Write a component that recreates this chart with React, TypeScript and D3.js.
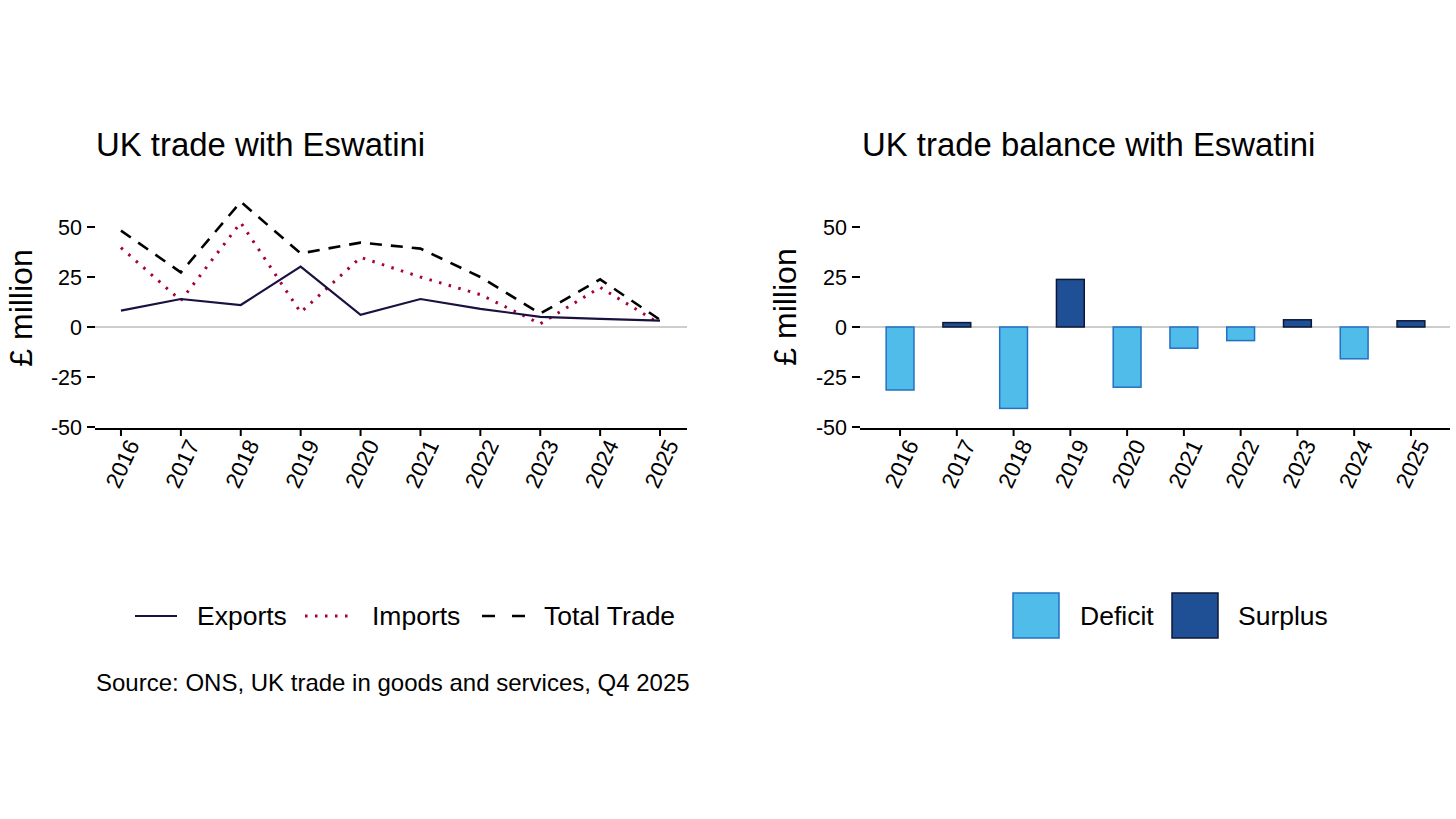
import React from "react";
import * as d3 from "d3";

const years = [2016, 2017, 2018, 2019, 2020, 2021, 2022, 2023, 2024, 2025];
const exportsVals = [8.2, 14, 11, 30.2, 6.1, 14, 9.1, 5.1, 4.1, 3.2];
const importsVals = [39.7, 13.2, 52.2, 7.3, 34.8, 25, 16.2, 1.6, 19.8, 1.6];
const totalVals = [48.2, 27.3, 62.6, 36.8, 42.2, 39.2, 25, 6.7, 23.8, 3.6];
const balanceVals = [-31.5, 2.2, -40.7, 23.8, -30.1, -10.6, -6.8, 3.6, -15.9, 3.1];
const yTicks = [-50, -25, 0, 25, 50];

const FONT = "'Liberation Sans', Arial, sans-serif";

const W = 1456;
const H = 819;

export default function App() {
  const y = d3.scaleLinear().domain([-50, 50]).range([427, 227]);
  const xL = d3.scaleLinear().domain([2015.55, 2025.45]).range([94, 687]);
  const xR = d3
    .scalePoint<number>()
    .domain(years)
    .range([866, 1445])
    .padding(0.6);
  const barW = xR.step() * 0.49;

  const line = (vals: number[]) =>
    d3
      .line<number>()
      .x((_, i) => xL(years[i]))
      .y((d) => y(d))(vals) || "";

  const axisY = (left: number, right: number) => (
    <g>
      {yTicks.map((t) => (
        <g key={t}>
          <line x1={left - 8} x2={left} y1={y(t)} y2={y(t)} stroke="#000" strokeWidth={2} />
          <text
            x={left - 13}
            y={y(t)}
            dy="0.36em"
            textAnchor="end"
            fontSize={21.5}
            fill="#000"
          >
            {t}
          </text>
        </g>
      ))}
      <line x1={left} x2={right} y1={y(0)} y2={y(0)} stroke="#bdbdbd" strokeWidth={1.3} />
      <line x1={left} x2={right} y1={429} y2={429} stroke="#000" strokeWidth={2} />
    </g>
  );

  const axisX = (pos: (v: number) => number) => (
    <g>
      {years.map((yr) => (
        <g key={yr}>
          <line x1={pos(yr)} x2={pos(yr)} y1={429} y2={436} stroke="#000" strokeWidth={2} />
          <text
            transform={`translate(${pos(yr) + 12},${441}) rotate(-65)`}
            textAnchor="end"
            dy="0.35em"
            fontSize={22.5}
            fill="#000"
          >
            {yr}
          </text>
        </g>
      ))}
    </g>
  );

  return (
    <svg width={W} height={H} style={{ display: "block", position: "absolute", left: 0, top: 0 }} fontFamily={FONT}>
      <rect width={W} height={H} fill="#fff" />

      {/* Left panel */}
      <text x={96} y={156} fontSize={32.9} fill="#000">UK trade with Eswatini</text>
      <text transform="translate(32,308) rotate(-90)" textAnchor="middle" fontSize={32} fill="#000">£ million</text>
      {axisY(95, 687)}
      {axisX((v) => xL(v))}
      <path d={line(totalVals)} fill="none" stroke="#000" strokeWidth={2.6} strokeDasharray="12 9" />
      <path d={line(importsVals)} fill="none" stroke="#a8003a" strokeWidth={3} strokeDasharray="2.5 7.5" />
      <path d={line(exportsVals)} fill="none" stroke="#1c1040" strokeWidth={2.2} />

      {/* Left legend */}
      <line x1={135} x2={177} y1={616} y2={616} stroke="#1c1040" strokeWidth={2.2} />
      <text x={197} y={625} fontSize={26.5} fill="#000">Exports</text>
      <line x1={305} x2={350} y1={616} y2={616} stroke="#a8003a" strokeWidth={3} strokeDasharray="2.5 7.5" />
      <text x={372} y={625} fontSize={26.5} fill="#000">Imports</text>
      <line x1={482} x2={525} y1={616} y2={616} stroke="#000" strokeWidth={2.6} strokeDasharray="13 17" />
      <text x={544} y={625} fontSize={26.5} fill="#000">Total Trade</text>

      <text x={96} y={691} fontSize={24} fill="#000">Source: ONS, UK trade in goods and services, Q4 2025</text>

      {/* Right panel */}
      <text x={862} y={156} fontSize={32.9} fill="#000">UK trade balance with Eswatini</text>
      <text transform="translate(796,307) rotate(-90)" textAnchor="middle" fontSize={32} fill="#000">£ million</text>
      {axisY(860, 1450)}
      {balanceVals.map((v, i) => {
        const cx = xR(years[i]) as number;
        const surplus = v >= 0;
        return (
          <rect
            key={years[i]}
            x={cx - barW / 2}
            y={Math.min(y(v), y(0))}
            width={barW}
            height={Math.abs(y(v) - y(0))}
            fill={surplus ? "#1f4f95" : "#4fbce9"}
            stroke={surplus ? "#0d1838" : "#2470c2"}
            strokeWidth={1.5}
          />
        );
      })}
      {axisX((v) => xR(v) as number)}

      {/* Right legend */}
      <rect x={1013} y={593} width={46} height={45} fill="#4fbce9" stroke="#2470c2" strokeWidth={1.5} />
      <text x={1080} y={625} fontSize={26.5} fill="#000">Deficit</text>
      <rect x={1172} y={593} width={46} height={45} fill="#1f4f95" stroke="#0d1838" strokeWidth={1.5} />
      <text x={1238} y={625} fontSize={26.5} fill="#000">Surplus</text>
    </svg>
  );
}
